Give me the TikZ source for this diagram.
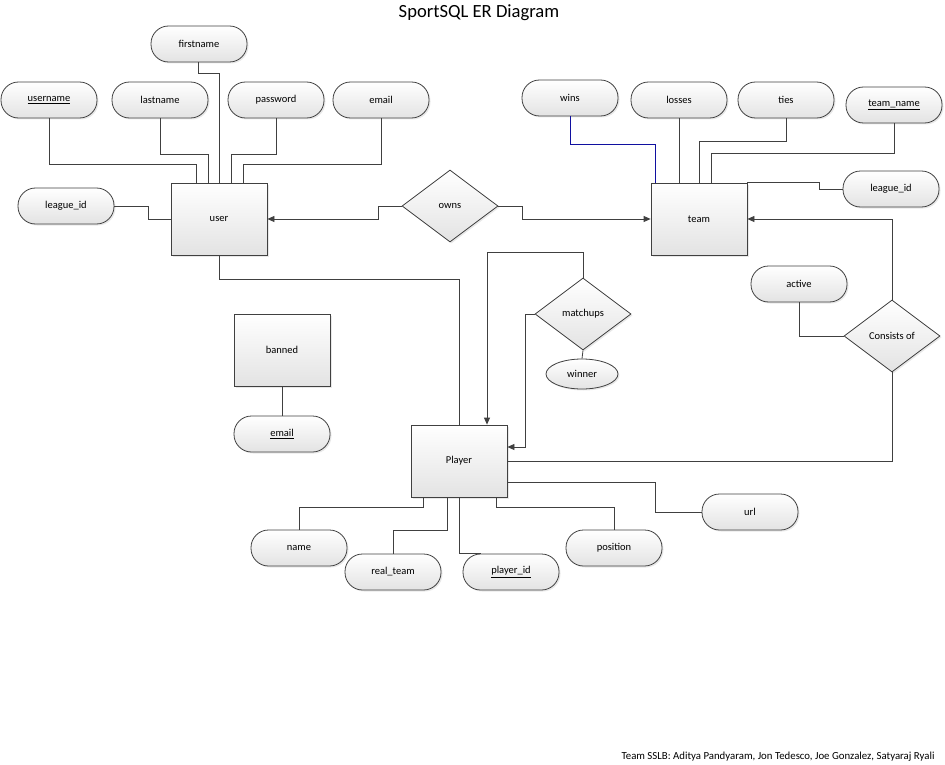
\documentclass[tikz,border=0pt]{standalone}
\usepackage{fontspec}
\setmainfont{Carlito}
\usetikzlibrary{shapes.geometric,arrows.meta,shadows}

\definecolor{edgegray}{HTML}{404040}
\definecolor{winsblue}{HTML}{1010A0}

\tikzset{
  every node/.style={font=\fontsize{10.5}{12}\selectfont},
  boxfill/.style={draw=edgegray, line width=0.8pt, top color=white, bottom color=black!11,
    drop shadow={shadow xshift=1.5pt, shadow yshift=-1.5pt, opacity=0.18}},
  entity/.style={boxfill, rectangle, minimum width=96pt, minimum height=72pt, inner sep=0pt},
  attr/.style={boxfill, rectangle, rounded corners=17.5pt, minimum width=96pt, minimum height=36pt, inner sep=0pt},
  oval/.style={boxfill, ellipse, minimum width=72pt, minimum height=30pt, inner sep=0pt},
  rel/.style={boxfill, diamond, aspect=1.333, minimum width=96pt, minimum height=72pt, inner sep=0pt},
  link/.style={draw=edgegray, line width=0.8pt},
  tolink/.style={link, -{Triangle[length=7pt,width=6pt]}},
}

\begin{document}
\begin{tikzpicture}[x=1pt, y=-1pt]
    \useasboundingbox (0,0) rectangle (945,765);

    % Title and credits
    \node (title) at (479,13) {\fontsize{18.6}{21}\selectfont SportSQL ER Diagram};
    \node[anchor=east] (credits) at (938,757) {\fontsize{10.8}{12}\selectfont Team SSLB: Aditya Pandyaram, Jon Tedesco, Joe Gonzalez, Satyaraj Ryali};

    % Entities
    \node[entity] (user) at (219,219) {user};
    \node[entity] (team) at (699,219) {team};
    \node[entity] (banned) at (282,350) {banned};
    \node[entity] (player) at (459,461) {Player};

    % Relationships
    \node[rel] (owns) at (450,206) {owns};
    \node[rel] (matchups) at (583,314) {matchups};
    \node[rel] (consists) at (892,336) {Consists of};

    % Attributes of user
    \node[attr] (firstname) at (199,44) {firstname};
    \node[attr] (username) at (49,100) {\underline{username}};
    \node[attr] (lastname) at (160,100) {lastname};
    \node[attr] (password) at (276,100) {password};
    \node[attr] (useremail) at (381,100) {email};
    \node[attr] (userleague) at (66,206) {league\_id};

    % Attributes of team
    \node[attr] (wins) at (570,98) {wins};
    \node[attr] (losses) at (679,100) {losses};
    \node[attr] (ties) at (786,100) {ties};
    \node[attr] (teamname) at (894,105) {\underline{team\_name}};
    \node[attr] (teamleague) at (891,189) {league\_id};

    % Other attributes
    \node[attr] (bannedemail) at (282,434) {\underline{email}};
    \node[oval] (winner) at (582,374) {winner};
    \node[attr] (active) at (799,284) {active};
    \node[attr] (url) at (750,512) {url};
    \node[attr] (name) at (299,548) {name};
    \node[attr] (realteam) at (393,572) {real\_team};
    \node[attr] (playerid) at (511,572) {\underline{player\_id}};
    \node[attr] (position) at (614,548) {position};

    % Connectors of user
    \draw[link] (username.south) -- ++(0,46) -| ([xshift=-23pt]user.north);
    \draw[link] (lastname.south) -- ++(0,36) -| ([xshift=-11pt]user.north);
    \draw[link] ([xshift=-1pt]firstname.south) -- ++(0,11) -| (user.north);
    \draw[link] (password.south) -- ++(0,36) -| ([xshift=12pt]user.north);
    \draw[link] (useremail.south) -- ++(0,46) -| ([xshift=24pt]user.north);
    \draw[link] (userleague.east) -- ++(34,0) |- (user.west);
    \draw[tolink] (owns.west) -- ++(-23,0) |- (user.east);
    \draw[link] (user.south) -- ++(0,24) -| (player.north);

    % Connectors of team
    \draw[tolink] (owns.east) -- ++(24,0) |- (team.west);
    \draw[link, draw=winsblue] (wins.south) -- ++(0,28) -| ([xshift=-44pt]team.north);
    \draw[link] (losses.south) -- ([xshift=-20pt]team.north);
    \draw[link] (ties.south) -- ++(0,23) -| (team.north);
    \draw[link] (teamname.south) -- ++(0,30) -| ([xshift=12pt]team.north);
    \draw[link] (team.north east) -- ++(72,0) |- (teamleague.west);
    \draw[tolink] (consists.north) |- (team.east);
    \draw[link] (active.south) |- (consists.west);
    \draw[link] (consists.south) |- (player.east);

    % Connectors of matchups and banned
    \draw[tolink] (matchups.north) -- ++(0,-25) -| ([xshift=28pt]player.north);
    \draw[tolink] (matchups.west) -- ++(-9,0) |- ([yshift=14pt]player.east);
    \draw[link] (matchups.south) -- (winner.north);
    \draw[link] (banned.south) -- (bannedemail.north);

    % Connectors of Player
    \draw[link] ([xshift=-36pt]player.south) -- ++(0,10) -| (name.north);
    \draw[link] ([xshift=-12pt]player.south) -- ++(0,33) -| (realteam.north);
    \draw[link] (player.south) |- ([xshift=-30pt]playerid.north);
    \draw[link] ([xshift=37pt]player.south) -- ++(0,10) -| (position.north);
    \draw[link] ([yshift=-21pt]player.east) -- ++(148,0) |- (url.west);
\end{tikzpicture}
\end{document}
